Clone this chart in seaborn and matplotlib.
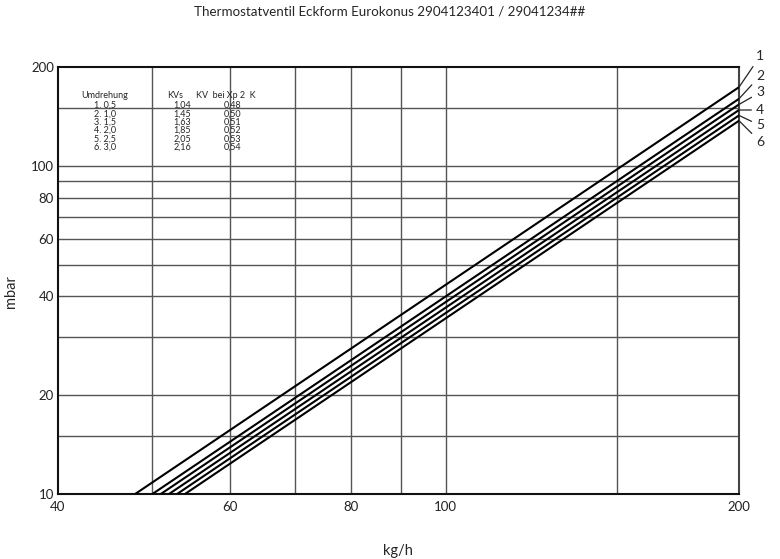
import numpy as np
import pandas as pd
import matplotlib
matplotlib.use("Agg")
import matplotlib.pyplot as plt
import seaborn as sns

# Kennlinien: Durchfluss bei 10 mbar und Druckverlust bei 200 kg/h
curve_ids = ["1", "2", "3", "4", "5", "6"]
flow_at_10mbar = [48.0, 50.0, 51.0, 52.0, 53.0, 54.0]
dp_at_200kgh = [173.6, 160.0, 153.8, 147.9, 142.4, 137.2]

# Tabelle oben links
table_turns = ["1. 0,5", "2. 1,0", "3. 1,5", "4. 2,0", "5. 2,5", "6. 3,0"]
table_kvs = ["1,04", "1,45", "1,63", "1,85", "2,05", "2,16"]
table_kv_xp2 = ["0,48", "0,50", "0,51", "0,52", "0,53", "0,54"]

x_grid = [50, 60, 70, 80, 90, 100, 150]
y_grid = [15, 20, 30, 40, 50, 60, 70, 80, 90, 100, 150]
x_ticks = [40, 60, 80, 100, 200]
y_ticks = [10, 20, 40, 60, 80, 100, 200]

sns.set_style("white")
plt.rcParams["font.family"] = ["Lato", "DejaVu Sans"]

rows = []
for cid, x0, y1 in zip(curve_ids, flow_at_10mbar, dp_at_200kgh):
    rows.append({"curve": cid, "kg/h": x0, "mbar": 10})
    rows.append({"curve": cid, "kg/h": 200, "mbar": y1})
df = pd.DataFrame(rows)

fig = plt.figure(figsize=(7.8, 5.59), dpi=100)
ax = fig.add_axes([58 / 780, 65 / 559, 681 / 780, 427 / 559])

for v in x_grid:
    ax.axvline(v, color="#555555", lw=1.0, zorder=1)
for v in y_grid:
    ax.axhline(v, color="#555555", lw=1.0, zorder=1)

sns.lineplot(data=df, x="kg/h", y="mbar", units="curve", estimator=None,
             color="black", lw=1.5, ax=ax, zorder=3)

ax.set_xscale("log")
ax.set_yscale("log")
ax.set_xlim(40, 200)
ax.set_ylim(10, 200)
ax.set_xticks(x_ticks)
ax.set_xticklabels([str(t) for t in x_ticks])
ax.set_yticks(y_ticks)
ax.set_yticklabels([str(t) for t in y_ticks])
ax.xaxis.set_minor_locator(matplotlib.ticker.NullLocator())
ax.yaxis.set_minor_locator(matplotlib.ticker.NullLocator())
ax.tick_params(axis="both", length=0, labelsize=9.5, colors="#222222")
ax.tick_params(axis="x", pad=5)
ax.tick_params(axis="y", pad=3)
ax.set_xlabel("")
ax.set_ylabel("")

for side in ["left", "bottom", "top"]:
    ax.spines[side].set_color("#111111")
    ax.spines[side].set_linewidth(1.5)
ax.spines["right"].set_color("#444444")
ax.spines["right"].set_linewidth(1.5)

fig.text(398 / 780, 1 - 551 / 559, "kg/h", ha="center", va="center", fontsize=10.5)
fig.text(11 / 780, 1 - 292 / 559, "mbar", ha="center", va="center", rotation=90, fontsize=10.5)
fig.text(390 / 780, 1 - 11 / 559,
         "Thermostatventil Eckform Eurokonus 2904123401 / 29041234##",
         ha="center", va="center", fontsize=9.6)

# Beschriftung der Kennlinien rechts
label_offsets = [31, 23, 12, 0, -10, -21]
for cid, y1, dy in zip(curve_ids, dp_at_200kgh, label_offsets):
    ax.annotate(cid, xy=(200, y1), xytext=(17, dy), textcoords="offset pixels",
                ha="left", va="center", fontsize=10, annotation_clip=False,
                arrowprops=dict(arrowstyle="-", color="#222222", lw=0.9,
                                shrinkA=1, shrinkB=0))

# Tabelle
fs = 6.5
fig.text(105 / 780, 1 - 96 / 559, "Umdrehung", ha="center", va="center", fontsize=fs)
fig.text(175 / 780, 1 - 96 / 559, "KVs", ha="center", va="center", fontsize=fs)
fig.text(226 / 780, 1 - 96 / 559, "KV  bei Xp 2  K", ha="center", va="center", fontsize=fs)
for i, (t, k, kv) in enumerate(zip(table_turns, table_kvs, table_kv_xp2)):
    yy = 1 - (105.5 + i * 8.3) / 559
    fig.text(105 / 780, yy, t, ha="center", va="center", fontsize=fs)
    fig.text(182 / 780, yy, k, ha="center", va="center", fontsize=fs)
    fig.text(233 / 780, yy, kv, ha="center", va="center", fontsize=fs)

fig.savefig("out.png", dpi=100)
